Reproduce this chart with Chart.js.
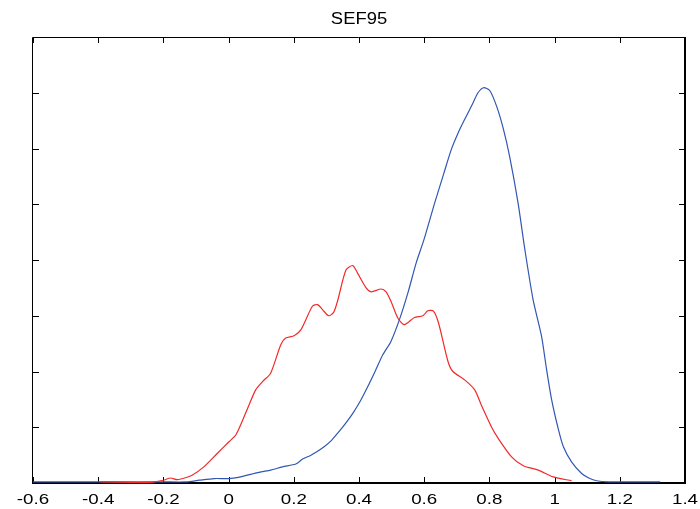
<!DOCTYPE html>
<html>
<head>
<meta charset="utf-8">
<script src="https://cdn.jsdelivr.net/npm/chart.js@4.4.0/dist/chart.umd.min.js"></script>
<style>
  html, body { margin: 0; padding: 0; background: #fff; }
  #wrap { width: 700px; height: 509px; }
</style>
</head>
<body>
<div id="wrap"><canvas id="sefChart" width="700" height="509"></canvas></div>
<script>
// SEF95 density curves

const TITLE = 'SEF95';

const xTicks = [-0.6, -0.4, -0.2, 0, 0.2, 0.4, 0.6, 0.8, 1, 1.2, 1.4];
const xTickLabels = ['-0.6', '-0.4', '-0.2', '0', '0.2', '0.4', '0.6', '0.8', '1', '1.2', '1.4'];
const yTicks = [0, 1, 2, 3, 4, 5, 6, 7, 8];

const blueX = [-0.6, -0.5, -0.4, -0.3, -0.2, -0.13, -0.09, -0.045, 0, 0.03, 0.057, 0.078, 0.1, 0.129,
  0.165, 0.206, 0.227, 0.25, 0.268, 0.293, 0.315, 0.334, 0.36, 0.381, 0.405, 0.427, 0.45, 0.473,
  0.498, 0.524, 0.55, 0.575, 0.599, 0.632, 0.66, 0.683, 0.704, 0.724, 0.75, 0.765, 0.782, 0.801,
  0.822, 0.842, 0.862, 0.888, 0.909, 0.934, 0.96, 0.975, 0.991, 1.01, 1.027, 1.052, 1.083, 1.105,
  1.129, 1.165, 1.25, 1.324];
const blueY = [0.02, 0.02, 0.02, 0.02, 0.02, 0.02, 0.05, 0.08, 0.08, 0.10, 0.14, 0.17, 0.20, 0.23,
  0.29, 0.34, 0.43, 0.49, 0.55, 0.65, 0.76, 0.89, 1.08, 1.25, 1.48, 1.73, 2.01, 2.30,
  2.54, 2.93, 3.41, 3.94, 4.36, 5.02, 5.55, 5.98, 6.28, 6.52, 6.82, 7.00, 7.09, 7.04,
  6.76, 6.37, 5.86, 5.02, 4.18, 3.29, 2.63, 2.05, 1.49, 1.00, 0.65, 0.38, 0.17, 0.09,
  0.04, 0.02, 0.02, 0.02];

const redX = [-0.394, -0.3, -0.24, -0.2, -0.178, -0.158, -0.135, -0.112, -0.076, -0.035, 0.001, 0.022,
  0.052, 0.083, 0.104, 0.129, 0.16, 0.175, 0.201, 0.222, 0.257, 0.273, 0.288, 0.307, 0.322, 0.334,
  0.36, 0.381, 0.396, 0.422, 0.437, 0.468, 0.483, 0.498, 0.519, 0.539, 0.57, 0.596, 0.611, 0.629,
  0.644, 0.673, 0.688, 0.724, 0.755, 0.775, 0.806, 0.827, 0.868, 0.904, 0.95, 0.996, 1.052];
const redY = [0.02, 0.01, 0.01, 0.05, 0.09, 0.06, 0.09, 0.14, 0.29, 0.53, 0.74, 0.86,
  1.25, 1.67, 1.82, 1.97, 2.48, 2.60, 2.64, 2.75, 3.17, 3.20, 3.11, 3.00, 3.06, 3.26,
  3.82, 3.90, 3.76, 3.50, 3.43, 3.48, 3.43, 3.26, 2.96, 2.84, 2.97, 3.00, 3.09, 3.08,
  2.87, 2.18, 2.00, 1.85, 1.67, 1.40, 1.01, 0.80, 0.47, 0.31, 0.23, 0.11, 0.04];

const toPoints = (xs, ys) => xs.map((x, i) => ({ x, y: ys[i] }));

// matlab-style box: inward ticks on all four sides, stretched labels
const axesBox = {
  id: 'axesBox',
  beforeDatasetsDraw(chart) {
    const { ctx, chartArea: a, scales: { x, y } } = chart;
    const len = 6;
    ctx.save();
    ctx.strokeStyle = '#000';
    ctx.lineWidth = 1;
    ctx.beginPath();
    xTicks.forEach(v => {
      const px = Math.round(x.getPixelForValue(v)) + 0.5;
      ctx.moveTo(px, a.top); ctx.lineTo(px, a.top + len);
      ctx.moveTo(px, a.bottom); ctx.lineTo(px, a.bottom - len);
    });
    yTicks.forEach(v => {
      const py = Math.round(y.getPixelForValue(v)) + 0.5;
      ctx.moveTo(a.left, py); ctx.lineTo(a.left + len, py);
      ctx.moveTo(a.right, py); ctx.lineTo(a.right - len, py);
    });
    ctx.stroke();

    ctx.beginPath();
    ctx.moveTo(a.left - 0.5, a.bottom);
    ctx.lineTo(a.left - 0.5, a.top + 0.5);
    ctx.lineTo(a.right, a.top + 0.5);
    ctx.stroke();
    ctx.lineWidth = 2;
    ctx.beginPath();
    ctx.moveTo(a.right, a.top);
    ctx.lineTo(a.right, a.bottom);
    ctx.lineTo(a.left - 1, a.bottom);
    ctx.stroke();
    ctx.restore();
  },
  afterDraw(chart) {
    const { ctx, chartArea: a, scales: { x } } = chart;
    ctx.save();
    ctx.fillStyle = '#000';
    ctx.textAlign = 'center';
    ctx.textBaseline = 'alphabetic';

    ctx.font = '15px "Liberation Sans", Arial, sans-serif';
    xTicks.forEach((v, i) => {
      ctx.save();
      ctx.translate(x.getPixelForValue(v), a.bottom + 21);
      ctx.scale(1.25, 1);
      ctx.fillText(xTickLabels[i], 0, 0);
      ctx.restore();
    });

    ctx.font = '16px "Liberation Sans", Arial, sans-serif';
    ctx.translate((a.left + a.right) / 2, 23.5);
    ctx.scale(1.15, 1);
    ctx.fillText(TITLE, 0, 0);
    ctx.restore();
  }
};

new Chart(document.getElementById('sefChart').getContext('2d'), {
  type: 'line',
  data: {
    datasets: [
      {
        label: 'red',
        data: toPoints(redX, redY),
        borderColor: '#f22a2a',
        borderWidth: 1.2,
        pointRadius: 0,
        tension: 0.25,
        fill: false,
        clip: 4,
        order: 1,
      },
      {
        label: 'blue',
        data: toPoints(blueX, blueY),
        borderColor: '#3157b3',
        borderWidth: 1.2,
        pointRadius: 0,
        tension: 0.25,
        fill: false,
        clip: 4,
        order: 2,
      }
    ]
  },
  options: {
    responsive: false,
    animation: false,
    layout: { padding: { left: 33, right: 15, top: 37, bottom: 26 } },
    plugins: {
      legend: { display: false },
      title: { display: false },
      tooltip: { enabled: false }
    },
    scales: {
      x: { type: 'linear', min: -0.6, max: 1.4, display: false },
      y: { type: 'linear', min: 0, max: 8, display: false }
    }
  },
  plugins: [axesBox]
});
</script>
</body>
</html>
